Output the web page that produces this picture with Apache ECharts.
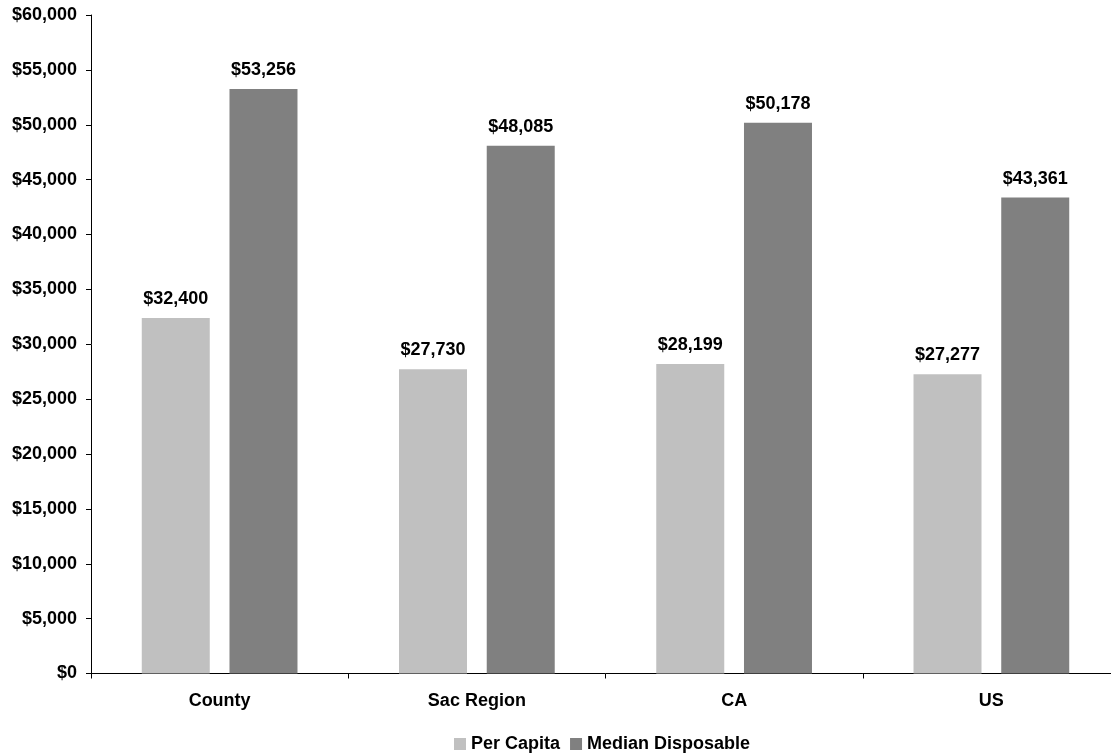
<!DOCTYPE html>
<html>
<head>
<meta charset="utf-8">
<script src="https://cdn.jsdelivr.net/npm/echarts@6/dist/echarts.min.js"></script>
<style>
  html, body { margin: 0; padding: 0; background: #fff; overflow: hidden; }
  /* the plot runs a few pixels past the right edge of the window */
  #chart { width: 1120px; height: 755px; }
</style>
</head>
<body>
<div id="chart"></div>
<script>
// Income by area
const categories = ['County', 'Sac Region', 'CA', 'US'];
const perCapita = [32400, 27730, 28199, 27277];
const medianDisposable = [53256, 48085, 50178, 43361];
const seriesNames = ['Per Capita', 'Median Disposable'];

const FONT = 'Liberation Sans, Arial, sans-serif';
const SIZE = 18;
const money = v => '$' + Number(v).toLocaleString('en-US');

const chart = echarts.init(document.getElementById('chart'), null, { renderer: 'canvas' });

const labelStyle = {
  show: true,
  position: 'top',
  distance: 10,
  formatter: p => money(p.value),
  color: '#000',
  fontFamily: FONT,
  fontWeight: 'bold',
  fontSize: SIZE
};

chart.setOption({
  animation: false,
  backgroundColor: '#fff',
  grid: { left: 91, right: 0, top: 15, bottom: 81.5, containLabel: false },
  legend: {
    top: 730,
    left: 449,
    itemWidth: 12,
    itemHeight: 12,
    itemGap: 10,
    icon: 'rect',
    textStyle: { fontFamily: FONT, fontWeight: 'bold', fontSize: SIZE, color: '#000' },
    data: seriesNames
  },
  xAxis: {
    type: 'category',
    data: categories,
    axisLine: { lineStyle: { color: '#000', width: 1 } },
    axisTick: { show: true, inside: false, length: 5, alignWithLabel: false, lineStyle: { color: '#000' } },
    axisLabel: { margin: 19, color: '#000', fontFamily: FONT, fontWeight: 'bold', fontSize: SIZE },
    splitLine: { show: false }
  },
  yAxis: {
    type: 'value',
    min: 0,
    max: 60000,
    interval: 5000,
    axisLine: { show: true, lineStyle: { color: '#000', width: 1 } },
    axisTick: { show: true, length: 5, lineStyle: { color: '#000' } },
    axisLabel: { margin: 14, color: '#000', fontFamily: FONT, fontWeight: 'bold', fontSize: SIZE, formatter: v => money(v) },
    splitLine: { show: false }
  },
  series: [
    {
      name: seriesNames[0],
      type: 'bar',
      data: perCapita,
      barWidth: 68,
      barGap: '29%',
      itemStyle: { color: '#C0C0C0' },
      label: labelStyle
    },
    {
      name: seriesNames[1],
      type: 'bar',
      data: medianDisposable,
      barWidth: 68,
      barGap: '29%',
      itemStyle: { color: '#808080' },
      label: labelStyle
    }
  ]
});
</script>
</body>
</html>
